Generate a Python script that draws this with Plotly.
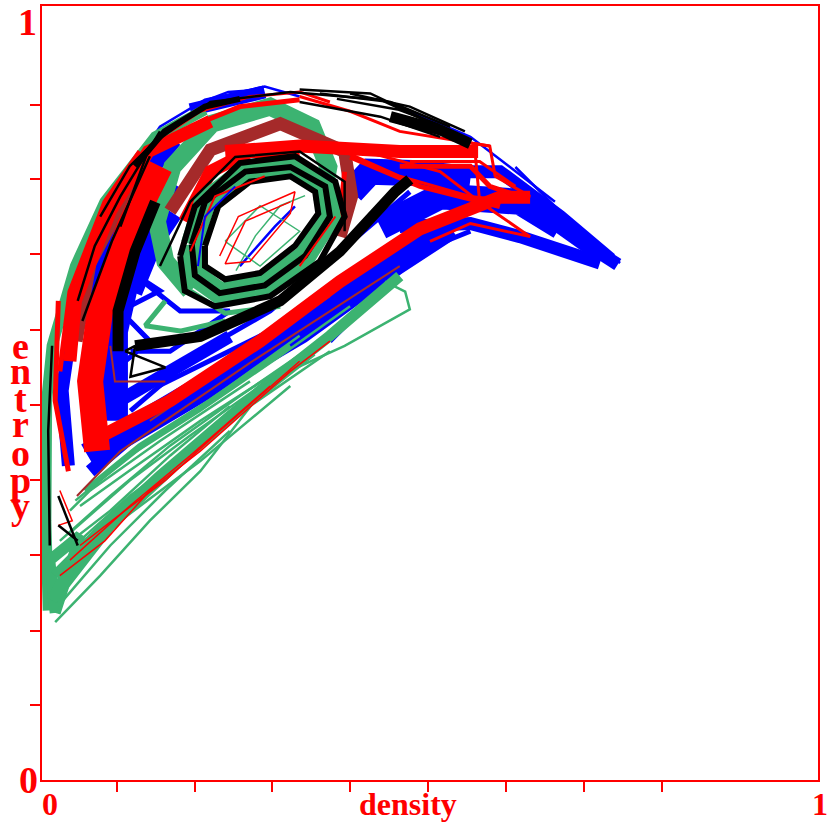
import plotly.graph_objects as go

RED = "#ff0000"
BLUE = "#0000ff"
GREEN = "#3cb371"
BROWN = "#a52a2a"
BLACK = "#000000"

x_ticks = [0.097, 0.197, 0.296, 0.397, 0.497, 0.598, 0.698, 0.799]
y_ticks = [0.097, 0.193, 0.291, 0.388, 0.485, 0.582, 0.679, 0.776, 0.872]
entropy_letters = ["e", "n", "t", "r", "o", "p", "y"]
entropy_letter_heights = [0.561, 0.528, 0.492, 0.460, 0.423, 0.387, 0.354]

# orbits, None breaks a line
blue_band_density = [0.059, 0.113, 0.216, 0.332, 0.448, 0.526, None,
                     0.094, 0.094, 0.120, 0.165, None,
                     0.436, 0.513, 0.616, 0.668, None,
                     0.043, 0.075, 0.120, 0.165, None,
                     0.399, 0.423, 0.487, 0.552, None,
                     0.113, 0.139, 0.165]
blue_band_entropy = [0.419, 0.451, 0.509, 0.580, 0.664, 0.715, None,
                     0.464, 0.580, 0.696, 0.773, None,
                     0.715, 0.754, 0.747, 0.715, None,
                     0.593, 0.696, 0.773, 0.831, None,
                     0.760, 0.786, 0.784, 0.776, None,
                     0.632, 0.696, 0.735]
blue_wide_density = [0.034, 0.026, 0.039, 0.068, 0.120, None,
                     0.680, 0.742, None,
                     0.062, 0.139, 0.268, 0.384, None,
                     0.461, 0.552, 0.616, 0.719, None,
                     0.500, 0.590, 0.668, 0.733, None,
                     0.100, 0.165, 0.242, None,
                     0.642, 0.719, None,
                     0.191, 0.255, 0.287]
blue_wide_entropy = [0.406, 0.503, 0.593, 0.690, 0.784, None,
                     0.706, 0.666, None,
                     0.399, 0.464, 0.541, 0.619, None,
                     0.715, 0.719, 0.702, 0.668, None,
                     0.786, 0.786, 0.728, 0.673, None,
                     0.490, 0.528, 0.573, None,
                     0.732, 0.677, None,
                     0.866, 0.883, 0.889]
blue_mid_density = [0.107, 0.139, 0.101, 0.152, 0.114, 0.178, 0.242, 0.165, 0.114, None,
                    0.114, 0.204, 0.294, 0.384, 0.474, None,
                    0.371, 0.436, 0.487, 0.552, None,
                    0.055, 0.088, 0.126, 0.165, None,
                    0.152, 0.229, 0.294]
blue_mid_entropy = [0.541, 0.567, 0.606, 0.632, 0.657, 0.606, 0.606, 0.554, 0.554, None,
                    0.477, 0.554, 0.606, 0.683, 0.760, None,
                    0.567, 0.631, 0.683, 0.709, None,
                    0.670, 0.747, 0.799, 0.844, None,
                    0.510, 0.548, 0.580]
blue_thin_density = [0.113, 0.152, 0.210, 0.287, 0.332, None,
                     0.461, 0.552, 0.603, 0.661, None,
                     0.610, 0.680, 0.745, None,
                     0.255, 0.300, 0.326, None,
                     0.198, 0.240, 0.285]
blue_thin_entropy = [0.786, 0.844, 0.879, 0.896, 0.883, None,
                     0.870, 0.831, 0.792, 0.747, None,
                     0.792, 0.722, 0.668, None,
                     0.664, 0.715, 0.741, None,
                     0.873, 0.889, 0.892]

green_wide_density = [0.013, 0.023, 0.088, 0.191, 0.281, 0.371, 0.461, None,
                      0.008, 0.005, 0.006, 0.013, 0.043, 0.081, 0.146, 0.210, None,
                      0.017, 0.010, 0.049, 0.030, 0.017, None,
                      0.017, 0.075, 0.152, 0.243, 0.348, None,
                      0.013, 0.036, 0.062]
green_wide_entropy = [0.219, 0.245, 0.329, 0.425, 0.503, 0.574, 0.651, None,
                      0.219, 0.335, 0.490, 0.561, 0.664, 0.747, 0.831, 0.866, None,
                      0.216, 0.284, 0.316, 0.252, 0.216, None,
                      0.264, 0.322, 0.393, 0.471, 0.554, None,
                      0.232, 0.277, 0.309]
green_thin_density = [0.017, 0.075, 0.139, 0.204, 0.296, 0.390, 0.474, 0.468, 0.442, None,
                      0.036, 0.075, 0.139, 0.242, 0.332, None,
                      0.023, 0.088, 0.165, 0.255, 0.358, None,
                      0.049, 0.113, 0.204, 0.294, None,
                      0.031, 0.101, 0.178, 0.268, 0.371, None,
                      0.026, 0.101, 0.204, 0.320, None,
                      0.043, 0.113, 0.204, 0.307, 0.397, None,
                      0.039, 0.113, 0.191, 0.281, 0.384, None,
                      0.034, 0.113, 0.191, 0.268, 0.345, None,
                      0.030, 0.088, 0.165, 0.242, None,
                      0.021, 0.088, 0.159, 0.242, None,
                      0.062, 0.152, 0.268]
green_thin_entropy = [0.204, 0.264, 0.335, 0.399, 0.518, 0.561, 0.608, 0.631, 0.644, None,
                      0.348, 0.387, 0.438, 0.509, 0.574, None,
                      0.309, 0.367, 0.432, 0.496, 0.567, None,
                      0.354, 0.400, 0.464, 0.522, None,
                      0.284, 0.348, 0.406, 0.483, 0.554, None,
                      0.264, 0.335, 0.412, 0.509, None,
                      0.361, 0.419, 0.477, 0.548, 0.612, None,
                      0.322, 0.387, 0.445, 0.509, 0.586, None,
                      0.296, 0.367, 0.425, 0.492, 0.554, None,
                      0.303, 0.348, 0.419, 0.483, None,
                      0.225, 0.303, 0.374, 0.451, None,
                      0.374, 0.438, 0.515]
green_mid_density = [0.055, 0.126, 0.217, 0.320, None,
                     0.191, 0.236, 0.307, None,
                     0.159, 0.133, 0.178, 0.236]
green_mid_entropy = [0.374, 0.432, 0.490, 0.561, None,
                     0.632, 0.603, 0.612, None,
                     0.619, 0.587, 0.580, 0.593]
green_arc_density = [0.191, 0.159, 0.148, 0.168, 0.219, 0.294, 0.348, 0.369, 0.361]
green_arc_entropy = [0.632, 0.670, 0.722, 0.792, 0.848, 0.870, 0.844, 0.792, 0.747]
green_core_density = [0.250, 0.275, 0.307, 0.339, None, 0.236, 0.281, 0.332, 0.281, 0.236]
green_core_entropy = [0.658, 0.703, 0.742, 0.755, None, 0.696, 0.742, 0.709, 0.664, 0.696]
green_ring_density = [0.193, 0.210, 0.262, 0.320, 0.365, 0.371, 0.339, 0.287, 0.229, 0.197, 0.193]
green_ring_entropy = [0.692, 0.747, 0.786, 0.792, 0.767, 0.728, 0.677, 0.639, 0.629, 0.652, 0.692]

brown_wide_density = [0.044, 0.062, 0.116, None, 0.165, 0.217, 0.307, 0.390, 0.399, 0.384]
brown_wide_entropy = [0.567, 0.668, 0.771, None, 0.735, 0.814, 0.848, 0.812, 0.754, 0.702]
brown_thin_density = [0.088, 0.094, 0.159, None, 0.045, 0.101, 0.268, 0.461, None,
                      0.139, 0.268, 0.371]
brown_thin_entropy = [0.561, 0.515, 0.515, None, 0.367, 0.425, 0.539, 0.664, None,
                      0.464, 0.554, 0.625]

red_band_density = [0.071, 0.062, 0.075, 0.113, 0.152]
red_band_entropy = [0.425, 0.515, 0.606, 0.715, 0.793]
red_wide_density = [0.036, 0.043, 0.088, 0.137, 0.217, None,
                    0.064, 0.165, 0.281, 0.384, 0.487, 0.590, 0.629, None,
                    0.236, 0.332, 0.461, 0.562, None,
                    0.184, 0.217, 0.268, 0.332]
red_wide_entropy = [0.541, 0.619, 0.735, 0.812, 0.851, None,
                    0.438, 0.490, 0.567, 0.644, 0.712, 0.753, 0.753, None,
                    0.812, 0.819, 0.812, 0.812, None,
                    0.722, 0.786, 0.812, 0.812]
red_mid_density = [0.021, 0.017, 0.034, None, 0.023, 0.036, 0.081, 0.126, None,
                   0.390, 0.384, 0.332, None,
                   0.191, 0.255, 0.332, None,
                   0.461, 0.552, 0.577, 0.616, None,
                   0.397, 0.487, 0.590, None,
                   0.036, 0.055, 0.094]
red_mid_entropy = [0.619, 0.490, 0.399, None, 0.528, 0.631, 0.747, 0.812, None,
                   0.786, 0.728, 0.651, None,
                   0.844, 0.870, 0.879, None,
                   0.793, 0.793, 0.767, 0.754, None,
                   0.805, 0.767, 0.741, None,
                   0.567, 0.657, 0.747]
red_thin_density = [0.539, 0.577, 0.584, 0.629, 0.564, 0.513, 0.390, None,
                    0.558, 0.564, 0.629, 0.552, 0.500, None,
                    0.390, 0.461, 0.552, 0.616, None,
                    0.474, 0.564, 0.610, None,
                    0.332, 0.397, 0.461, 0.577, None,
                    0.165, 0.204, 0.268, 0.332, 0.371, None,
                    0.178, 0.197, 0.268, 0.358, 0.384]
red_thin_entropy = [0.825, 0.819, 0.780, 0.754, 0.747, 0.786, 0.819, None,
                    0.812, 0.747, 0.702, 0.719, 0.696, None,
                    0.812, 0.780, 0.754, 0.747, None,
                    0.799, 0.799, 0.767, None,
                    0.883, 0.864, 0.838, 0.819, None,
                    0.838, 0.864, 0.883, 0.889, 0.876, None,
                    0.670, 0.747, 0.792, 0.780, 0.728]
red_fine_density = [0.229, 0.253, 0.326, 0.320, 0.268, 0.236, 0.262, 0.320, None,
                    0.023, 0.081, 0.139, 0.204, 0.320, 0.371, None,
                    0.049, 0.107, 0.159, 0.229, 0.332, None,
                    0.023, 0.039, 0.021, None,
                    0.036, 0.113, 0.191, 0.294]
red_fine_entropy = [0.677, 0.728, 0.760, 0.732, 0.670, 0.667, 0.722, 0.747, None,
                    0.264, 0.309, 0.374, 0.425, 0.528, 0.567, None,
                    0.303, 0.348, 0.387, 0.451, 0.541, None,
                    0.374, 0.335, 0.329, None,
                    0.284, 0.354, 0.419, 0.509]

black_wide_density = [0.120, 0.204, 0.307, 0.384, 0.455, 0.474, None,
                      0.098, 0.098, 0.120, 0.146, None,
                      0.449, 0.513, 0.552]
black_wide_entropy = [0.561, 0.573, 0.619, 0.683, 0.760, 0.776, None,
                      0.554, 0.606, 0.683, 0.747, None,
                      0.857, 0.840, 0.822]
black_ring_density = [0.193, 0.210, 0.262, 0.320, 0.365, 0.371, 0.339, 0.287, 0.229, 0.197, 0.193, None,
                      0.210, 0.227, 0.268, 0.320, 0.352, 0.356, 0.326, 0.281, 0.236, 0.210, 0.210, None,
                      0.178, 0.197, 0.255, 0.326, 0.378, 0.390, 0.358, 0.294, 0.223, 0.184, 0.178, None,
                      0.120, 0.158, 0.210, 0.255]
black_ring_entropy = [0.692, 0.747, 0.786, 0.792, 0.767, 0.728, 0.677, 0.639, 0.629, 0.652, 0.692, None,
                      0.690, 0.741, 0.773, 0.780, 0.760, 0.732, 0.690, 0.655, 0.647, 0.664, 0.690, None,
                      0.677, 0.741, 0.797, 0.806, 0.773, 0.728, 0.670, 0.625, 0.612, 0.632, 0.677, None,
                      0.793, 0.838, 0.870, 0.880]
black_thin_density = [0.152, 0.191, 0.249, 0.332, 0.390, 0.390, None,
                      0.101, 0.139, 0.217, 0.320, 0.436, 0.539, None,
                      0.332, 0.423, 0.513, 0.552, None,
                      0.010, 0.008, 0.013, None,
                      0.021, 0.039, 0.046, None,
                      0.021, 0.046, None,
                      0.052, 0.090, 0.139, None,
                      0.107, 0.159, 0.114, 0.120, 0.107, None,
                      0.075, 0.113, 0.165, None,
                      0.046, 0.068, 0.101, 0.152, None,
                      0.380, 0.460, 0.513, None,
                      0.358, 0.449, 0.526, None,
                      0.397, 0.474, 0.545, None,
                      0.332, 0.436, 0.513]
black_thin_entropy = [0.664, 0.747, 0.805, 0.812, 0.773, 0.709, None,
                      0.715, 0.819, 0.876, 0.889, 0.879, 0.831, None,
                      0.892, 0.887, 0.844, 0.825, None,
                      0.303, 0.451, 0.561, None,
                      0.367, 0.322, 0.303, None,
                      0.329, 0.309, None,
                      0.593, 0.696, 0.806, None,
                      0.554, 0.533, 0.521, 0.561, 0.554, None,
                      0.728, 0.793, 0.844, None,
                      0.619, 0.690, 0.754, 0.838, None,
                      0.880, 0.866, 0.846, None,
                      0.887, 0.876, 0.844, None,
                      0.887, 0.870, 0.838, None,
                      0.876, 0.857, 0.831]

red_fleck_density = [0.191, 0.223, 0.287, None, 0.332, 0.378]
red_fleck_entropy = [0.683, 0.754, 0.780, None, 0.664, 0.728]
blue_fleck_density = [0.201, 0.210, 0.249]
blue_fleck_entropy = [0.664, 0.728, 0.767]

layers = [
    (blue_band_density, blue_band_entropy, BLUE, 26),
    (blue_wide_density, blue_wide_entropy, BLUE, 13),
    (blue_mid_density, blue_mid_entropy, BLUE, 5),
    (blue_thin_density, blue_thin_entropy, BLUE, 2.5),
    (green_wide_density, green_wide_entropy, GREEN, 11),
    (green_thin_density, green_thin_entropy, GREEN, 2.5),
    (green_mid_density, green_mid_entropy, GREEN, 5),
    (green_arc_density, green_arc_entropy, GREEN, 18),
    (green_core_density, green_core_entropy, GREEN, 1.5),
    (brown_wide_density, brown_wide_entropy, BROWN, 13),
    (brown_thin_density, brown_thin_entropy, BROWN, 2),
    (red_band_density, red_band_entropy, RED, 26),
    (red_wide_density, red_wide_entropy, RED, 13),
    (red_mid_density, red_mid_entropy, RED, 5),
    (red_thin_density, red_thin_entropy, RED, 3),
    (red_fine_density, red_fine_entropy, RED, 1.5),
    (green_ring_density, green_ring_entropy, GREEN, 22),
    (black_wide_density, black_wide_entropy, BLACK, 11),
    (black_ring_density, black_ring_entropy, BLACK, 6),
    (black_thin_density, black_thin_entropy, BLACK, 2.5),
    (red_fleck_density, red_fleck_entropy, RED, 2),
    (blue_fleck_density, blue_fleck_entropy, BLUE, 2),
]

fig = go.Figure()
for density, entropy, color, width in layers:
    fig.add_trace(go.Scatter(x=density, y=entropy, mode="lines",
                             line={"color": color, "width": width},
                             hoverinfo="skip", showlegend=False))


def label(text, x, y, size=38):
    fig.add_annotation(text=f"<b>{text}</b>", x=x, y=y, xref="paper", yref="paper",
                       xanchor="center", yanchor="middle", showarrow=False,
                       font={"family": "Liberation Serif", "size": size, "color": RED})


label("1", -0.019, 0.979)
label("0", -0.018, 0.0)
label("0", 0.010, -0.031, 32)
label("density", 0.472, -0.031, 32)
label("1", 1.003, -0.031, 32)
for letter, height in zip(entropy_letters, entropy_letter_heights):
    label(letter, -0.028, height)

axis = {"range": [0, 1], "showgrid": False, "zeroline": False, "showticklabels": False,
        "showline": True, "mirror": True, "linecolor": RED, "linewidth": 2,
        "ticks": "outside", "ticklen": 10, "tickwidth": 2, "tickcolor": RED}

fig.update_layout(
    width=830, height=825,
    paper_bgcolor="white", plot_bgcolor="white",
    margin={"l": 42, "r": 12, "t": 4, "b": 45},
    xaxis={**axis, "tickvals": x_ticks},
    yaxis={**axis, "tickvals": y_ticks},
)

# the page's default body margin would push the plot off its place
fig.write_html("out.html", config={"displayModeBar": False},
               post_script="document.body.style.margin = '0';")
